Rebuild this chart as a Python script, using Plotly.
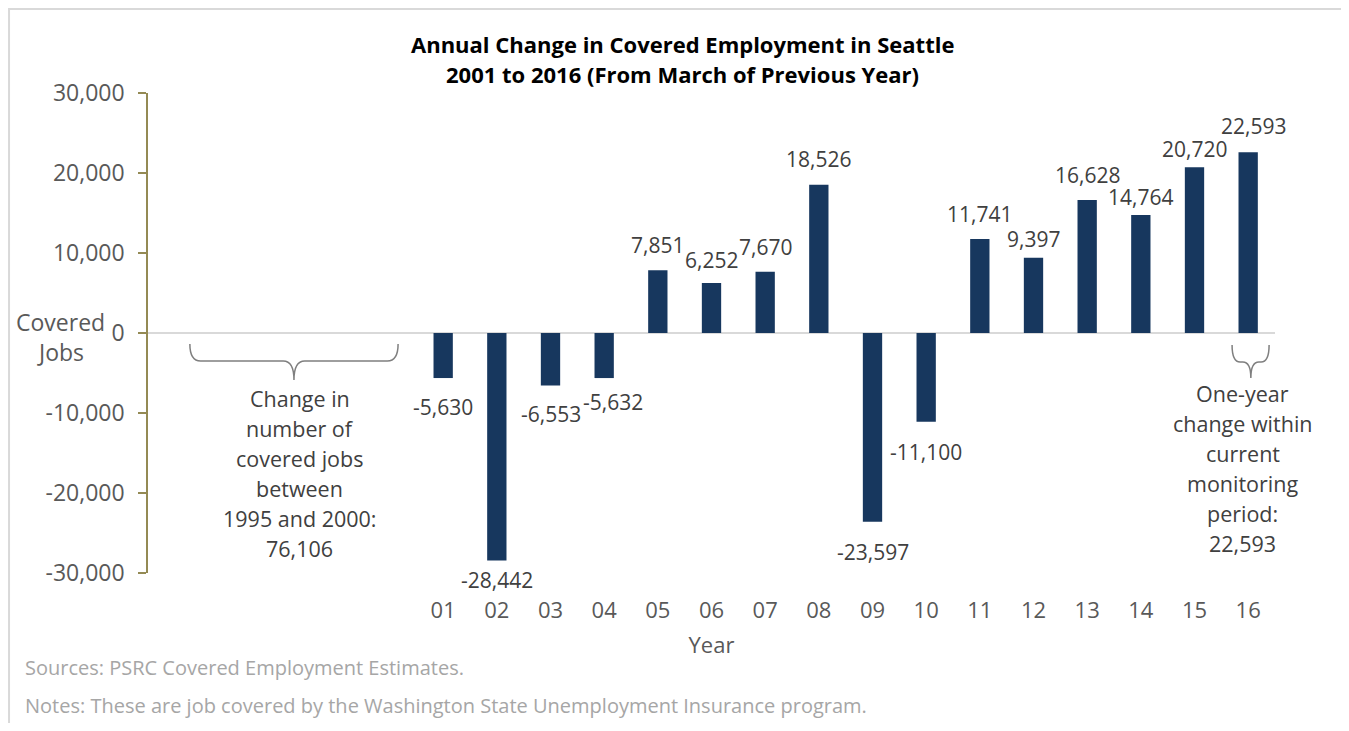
import plotly.graph_objects as go

# ---------------- data ----------------
years = list(range(1, 17))
year_labels = ["01", "02", "03", "04", "05", "06", "07", "08",
               "09", "10", "11", "12", "13", "14", "15", "16"]
job_change = [-5630, -28442, -6553, -5632, 7851, 6252, 7670, 18526,
              -23597, -11100, 11741, 9397, 16628, 14764, 20720, 22593]
y_ticks = [-30000, -20000, -10000, 0, 10000, 20000, 30000]
y_tick_labels = ["-30,000", "-20,000", "-10,000", "0", "10,000", "20,000", "30,000"]

title_lines = ["Annual Change in Covered Employment in Seattle",
               "2001 to 2016 (From March of Previous Year)"]
left_note = ["Change in", "number of", "covered jobs", "between",
             "1995 and 2000:", "76,106"]
right_note = ["One-year", "change within", "current", "monitoring",
              "period:", "22,593"]
source_text = "Sources: PSRC Covered Employment Estimates."
notes_text = "Notes: These are job covered by the Washington State Unemployment Insurance program."

# ---------------- style ----------------
FONT = "Open Sans"
BAR = "#17375E"
AXIS = "#948A54"
TICK_TXT = "#595959"
LABEL_TXT = "#404040"
label_yshift = [-29, -19, -29, -24, 25, 23, 25, 26, -30, -30, 25, 19, 25, 18, 18, 26]
label_xshift = [0, 0, 0, 9, 0, 0, 0, 0, 0, 0, 0, 0, 0, 0, 0, 5]

fig = go.Figure()
fig.add_trace(go.Bar(x=years, y=job_change, marker_color=BAR,
                     marker_line_width=0, width=0.36, hoverinfo="x+y"))

annotations = []
for x, v, dy, dx in zip(years, job_change, label_yshift, label_xshift):
    annotations.append(dict(x=x, y=v, xref="x", yref="y", text=f"{v:,}",
                            showarrow=False, xanchor="center", yanchor="middle",
                            yshift=dy, xshift=dx,
                            font=dict(family=FONT, size=21, color=LABEL_TXT)))

for i, line in enumerate(left_note):
    annotations.append(dict(x=-1.67, y=-8125, xref="x", yref="y", text=line,
                            showarrow=False, xanchor="center", yanchor="middle",
                            yshift=-30 * i,
                            font=dict(family=FONT, size=21.5, color=LABEL_TXT)))
for i, line in enumerate(right_note):
    annotations.append(dict(x=15.90, y=-7500, xref="x", yref="y", text=line,
                            showarrow=False, xanchor="center", yanchor="middle",
                            yshift=-30 * i,
                            font=dict(family=FONT, size=21.5, color=LABEL_TXT)))

for i, line in enumerate(title_lines):
    annotations.append(dict(x=0.4747, y=1.102, xref="paper", yref="paper",
                            text=f"<b>{line}</b>", showarrow=False,
                            xanchor="center", yanchor="middle", yshift=-30 * i,
                            font=dict(family=FONT, size=22, color="#000000")))

for i, line in enumerate(["Covered", "Jobs"]):
    annotations.append(dict(x=-0.078, y=0.523, xref="paper", yref="paper",
                            text=line, showarrow=False, xanchor="center",
                            yanchor="middle", yshift=-30 * i,
                            font=dict(family=FONT, size=23, color=TICK_TXT)))

annotations.append(dict(x=-0.111, y=-0.196, xref="paper", yref="paper",
                        text=source_text, showarrow=False, xanchor="left",
                        yanchor="middle",
                        font=dict(family=FONT, size=20, color="#A6A6A6")))
annotations.append(dict(x=-0.111, y=-0.275, xref="paper", yref="paper",
                        text=notes_text, showarrow=False, xanchor="left",
                        yanchor="middle",
                        font=dict(family=FONT, size=20, color="#A6A6A6")))


def brace(x0, x1, xc, ytop, yh, ytip, dx):
    return (f"M {x0},{ytop} Q {x0},{yh} {x0 + dx},{yh} "
            f"L {xc - dx},{yh} Q {xc},{yh} {xc},{ytip} "
            f"Q {xc},{yh} {xc + dx},{yh} "
            f"L {x1 - dx},{yh} Q {x1},{yh} {x1},{ytop}")


shapes = [
    dict(type="path", xref="x", yref="y",
         path=brace(-3.72, 0.16, -1.78, -1375, -3500, -5875, 0.2),
         line=dict(color="#7F7F7F", width=1.5)),
    dict(type="path", xref="x", yref="y",
         path=brace(15.70, 16.39, 16.05, -1500, -3625, -5625, 0.15),
         line=dict(color="#7F7F7F", width=1.5)),
    dict(type="rect", xref="paper", yref="paper",
         x0=-0.1233, x1=1.08, y0=-0.36, y1=1.175,
         line=dict(color="#D9D9D9", width=2), layer="below"),
]

fig.update_layout(
    width=1333, height=715,
    margin=dict(l=140, r=66, t=85, b=150),
    paper_bgcolor="white", plot_bgcolor="white",
    showlegend=False,
    font=dict(family=FONT, color=TICK_TXT),
    annotations=annotations,
    shapes=shapes,
    xaxis=dict(range=[-4.5, 16.5], tickmode="array", tickvals=years,
               ticktext=year_labels, showgrid=False, zeroline=False,
               showline=False, ticks="", ticklabelstandoff=22,
               tickfont=dict(family=FONT, size=22, color=TICK_TXT),
               title=dict(text="Year", standoff=14,
                          font=dict(family=FONT, size=22, color=TICK_TXT)),
               fixedrange=True),
    yaxis=dict(range=[-30000, 30000], tickmode="array", tickvals=y_ticks,
               ticktext=y_tick_labels, showgrid=False, zeroline=True,
               zerolinecolor="#D9D9D9", zerolinewidth=2,
               showline=True, linecolor=AXIS, linewidth=1.5,
               ticks="outside", ticklen=8, tickcolor=AXIS, tickwidth=1.5,
               ticklabelstandoff=9,
               tickfont=dict(family=FONT, size=23, color=TICK_TXT),
               fixedrange=True),
)

fig.write_html("out.html")
